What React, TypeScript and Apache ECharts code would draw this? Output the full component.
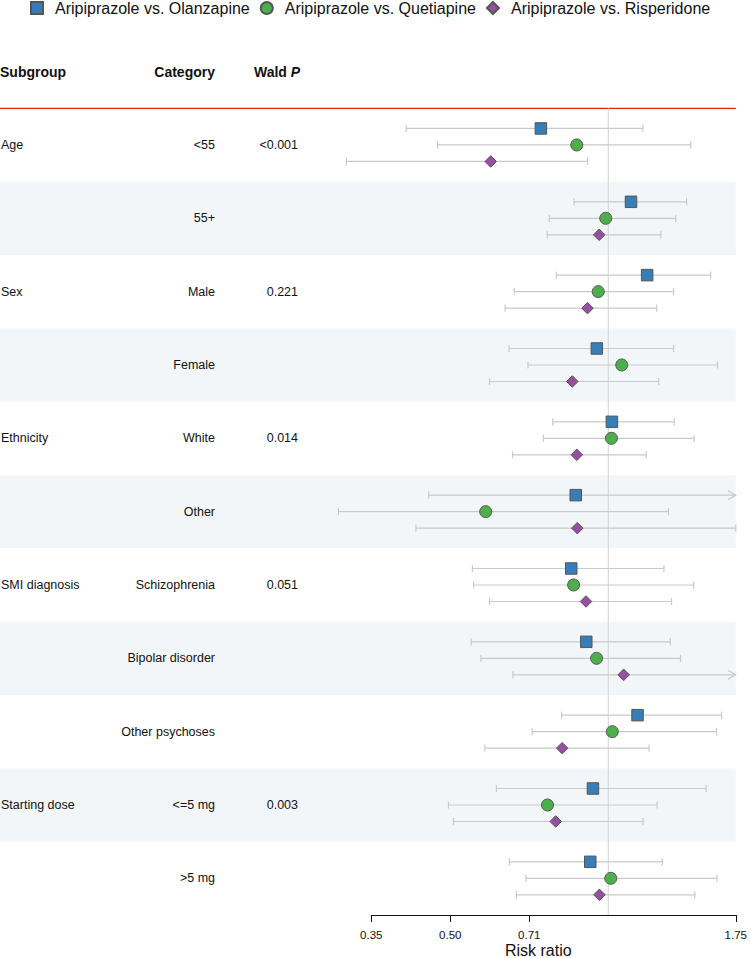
import React, { useEffect, useRef } from 'react';
import * as echarts from 'echarts';

// ---------------- data ----------------
const seriesNames = ['Aripiprazole vs. Olanzapine', 'Aripiprazole vs. Quetiapine', 'Aripiprazole vs. Risperidone'];

const subgroups = ['Age', '', 'Sex', '', 'Ethnicity', '', 'SMI diagnosis', '', '', 'Starting dose', ''];
const categories = ['<55', '55+', 'Male', 'Female', 'White', 'Other', 'Schizophrenia', 'Bipolar disorder', 'Other psychoses', '<=5 mg', '>5 mg'];
const waldP = ['<0.001', '', '0.221', '', '0.014', '', '0.051', '', '', '0.003', ''];

const olanzapineRR = [0.744, 1.105, 1.186, 0.951, 1.016, 0.867, 0.850, 0.908, 1.137, 0.935, 0.924];
const olanzapineLower = [0.412, 0.861, 0.796, 0.647, 0.784, 0.455, 0.551, 0.548, 0.815, 0.612, 0.648];
const olanzapineUpper = [1.164, 1.410, 1.567, 1.332, 1.336, 2.0, 1.277, 1.313, 1.644, 1.536, 1.268];

const quetiapineRR = [0.871, 0.989, 0.957, 1.061, 1.014, 0.584, 0.859, 0.950, 1.018, 0.766, 1.011];
const quetiapineLower = [0.473, 0.772, 0.662, 0.703, 0.752, 0.306, 0.554, 0.572, 0.716, 0.496, 0.697];
const quetiapineUpper = [1.436, 1.345, 1.332, 1.615, 1.458, 1.302, 1.455, 1.373, 1.608, 1.239, 1.611];

const risperidoneRR = [0.597, 0.961, 0.913, 0.854, 0.871, 0.873, 0.907, 1.070, 0.817, 0.794, 0.962];
const risperidoneLower = [0.317, 0.765, 0.636, 0.594, 0.657, 0.430, 0.594, 0.658, 0.582, 0.507, 0.668];
const risperidoneUpper = [0.913, 1.260, 1.237, 1.248, 1.181, 1.75, 1.320, 2.0, 1.196, 1.165, 1.462];

const tickValues = [0.35355, 0.5, 0.70711, 1.75];
const tickLabels = ['0.35', '0.50', '0.71', '1.75'];
const referenceRR = 1;

const headers = ['Subgroup', 'Category', 'Wald P'];
const axisTitle = 'Risk ratio';

// ---------------- styles ----------------
const FONT = "'Liberation Sans', Arial, Helvetica, sans-serif";
const COLORS = ['#377EB8', '#4DAF4A', '#984EA3'];
const SYMBOLS = ['rect', 'circle', 'diamond'];
const SIZES = [11.5, 12, 11.5];
const OFFSETS = [-0.225, 0, 0.225];
const CI_COLOR = '#c9c9c9';
const BAND = '#f3f6f8';
const TEXT = '#111111';

const estimates = [olanzapineRR, quetiapineRR, risperidoneRR];
const lowers = [olanzapineLower, quetiapineLower, risperidoneLower];
const uppers = [olanzapineUpper, quetiapineUpper, risperidoneUpper];

const log2 = (v: number) => Math.log(v) / Math.LN2;
const xMin = log2(tickValues[0]);
const xMax = log2(tickValues[tickValues.length - 1]);
const tickLogs = tickValues.map(log2);

export default function App() {
  const ref = useRef<HTMLDivElement>(null);

  useEffect(() => {
    if (!ref.current) return;
    const chart = echarts.init(ref.current, undefined, { renderer: 'svg' });

    const nRows = categories.length;

    const bandSeries: any = {
      type: 'custom',
      name: 'bands',
      silent: true,
      clip: false,
      z: 0,
      data: categories.map((_, i) => [xMin, i]),
      encode: { x: 0, y: 1 },
      renderItem: (params: any, api: any) => {
        const i = api.value(1);
        const top = api.coord([xMax, i])[1];
        const bottom = api.coord([xMax, i + 1])[1];
        const right = api.coord([xMax, i])[0];
        const mid = (top + bottom) / 2;
        const children: any[] = [];
        if (i % 2 === 1) {
          children.push({
            type: 'rect',
            shape: { x: 0, y: top, width: right, height: bottom - top },
            style: { fill: BAND },
          });
        }
        if (i === 0) {
          children.push({
            type: 'line',
            shape: { x1: 0, y1: top, x2: right, y2: top },
            style: { stroke: '#e3241b', lineWidth: 1.3 },
          });
        }
        const txt = (text: string, x: number, align: string) => ({
          type: 'text',
          x,
          y: mid,
          style: {
            text,
            fontSize: 12.5,
            fontFamily: FONT,
            fill: TEXT,
            align,
            verticalAlign: 'middle',
          },
        });
        if (subgroups[i]) children.push(txt(subgroups[i], 1, 'left'));
        if (categories[i]) children.push(txt(categories[i], 215, 'right'));
        if (waldP[i]) children.push(txt(waldP[i], 298, 'right'));
        return { type: 'group', children };
      },
    };

    const ciSeries: any[] = seriesNames.map((_, s) => ({
      type: 'custom',
      name: 'ci-' + s,
      silent: true,
      clip: false,
      z: 2,
      data: categories.map((_, i) => [log2(lowers[s][i]), log2(uppers[s][i]), i + 0.5 + OFFSETS[s]]),
      encode: { x: [0, 1], y: 2 },
      renderItem: (params: any, api: any) => {
        const lo = api.value(0);
        const hi = api.value(1);
        const yv = api.value(2);
        const over = hi > xMax + 1e-6;
        const p1 = api.coord([lo, yv]);
        const p2 = api.coord([over ? xMax : hi, yv]);
        const st = { stroke: CI_COLOR, lineWidth: 1.2, fill: 'none' };
        const children: any[] = [
          { type: 'line', shape: { x1: p1[0], y1: p1[1], x2: p2[0], y2: p2[1] }, style: st },
          { type: 'line', shape: { x1: p1[0], y1: p1[1] - 3.6, x2: p1[0], y2: p1[1] + 3.6 }, style: st },
        ];
        if (over) {
          children.push({
            type: 'polyline',
            shape: { points: [[p2[0] - 8, p2[1] - 4.5], [p2[0], p2[1]], [p2[0] - 8, p2[1] + 4.5]] },
            style: st,
          });
        } else {
          children.push({ type: 'line', shape: { x1: p2[0], y1: p2[1] - 3.6, x2: p2[0], y2: p2[1] + 3.6 }, style: st });
        }
        return { type: 'group', children };
      },
    }));

    const pointSeries: any[] = seriesNames.map((name, s) => ({
      type: 'scatter',
      name,
      z: 5,
      symbol: SYMBOLS[s],
      symbolSize: SIZES[s],
      itemStyle: { color: COLORS[s], borderColor: '#555555', borderWidth: 1, opacity: 1 },
      data: categories.map((_, i) => [log2(estimates[s][i]), i + 0.5 + OFFSETS[s]]),
    }));

    const refLine: any = {
      type: 'line',
      name: 'reference',
      silent: true,
      z: 1,
      symbol: 'none',
      lineStyle: { color: '#d2d2d2', width: 1 },
      data: [[log2(referenceRR), 0], [log2(referenceRR), nRows]],
    };

    chart.setOption({
      animation: false,
      backgroundColor: '#ffffff',
      textStyle: { fontFamily: FONT },
      legend: {
        data: seriesNames,
        left: 30,
        top: 0,
        padding: [0, 0, 0, 0],
        itemWidth: 12,
        itemHeight: 12,
        itemGap: 10,
        selectedMode: false,
        textStyle: { fontSize: 16, fontFamily: FONT, color: TEXT, padding: [0, 0, 0, 7] },
      },
      grid: { left: 371.3, right: 11.3, top: 108.3, bottom: 43 },
      xAxis: {
        type: 'value',
        position: 'bottom',
        min: xMin,
        max: xMax,
        axisLine: { show: true, onZero: false, lineStyle: { color: '#111', width: 1 } },
        splitLine: { show: false },
        axisTick: { show: true, customValues: tickLogs, length: 7, lineStyle: { color: '#111' } },
        axisLabel: {
          show: true,
          customValues: tickLogs,
          margin: 14,
          fontSize: 11.5,
          fontFamily: FONT,
          color: TEXT,
          formatter: (v: number) => {
            const k = tickLogs.findIndex((t) => Math.abs(t - v) < 1e-6);
            return k >= 0 ? tickLabels[k] : '';
          },
        },
      },
      yAxis: { type: 'value', min: 0, max: nRows, inverse: true, show: false },
      graphic: [
        {
          type: 'text',
          x: 0,
          y: 72,
          style: { text: headers[0], fontSize: 14, fontWeight: 'bold', fontFamily: FONT, fill: TEXT, align: 'left', verticalAlign: 'middle' },
        },
        {
          type: 'text',
          x: 215,
          y: 72,
          style: { text: headers[1], fontSize: 14, fontWeight: 'bold', fontFamily: FONT, fill: TEXT, align: 'right', verticalAlign: 'middle' },
        },
        {
          type: 'text',
          x: 254,
          y: 72,
          style: {
            text: '{b|Wald }{i|P}',
            fontSize: 14,
            fontFamily: FONT,
            fill: TEXT,
            align: 'left',
            verticalAlign: 'middle',
            rich: {
              b: { fontSize: 14, fontWeight: 'bold', fontFamily: FONT, fill: TEXT },
              i: { fontSize: 14, fontWeight: 'bold', fontStyle: 'italic', fontFamily: FONT, fill: TEXT },
            },
          },
        },
        {
          type: 'text',
          x: 538.3,
          y: 950.5,
          style: { text: axisTitle, fontSize: 16, fontFamily: FONT, fill: TEXT, align: 'center', verticalAlign: 'middle' },
        },
      ],
      series: [bandSeries, refLine, ...ciSeries, ...pointSeries],
    });

    return () => chart.dispose();
  }, []);

  return (
    <div
      ref={ref}
      style={{ position: 'fixed', left: 0, top: 0, width: 750, height: 958, background: '#fff' }}
    />
  );
}
